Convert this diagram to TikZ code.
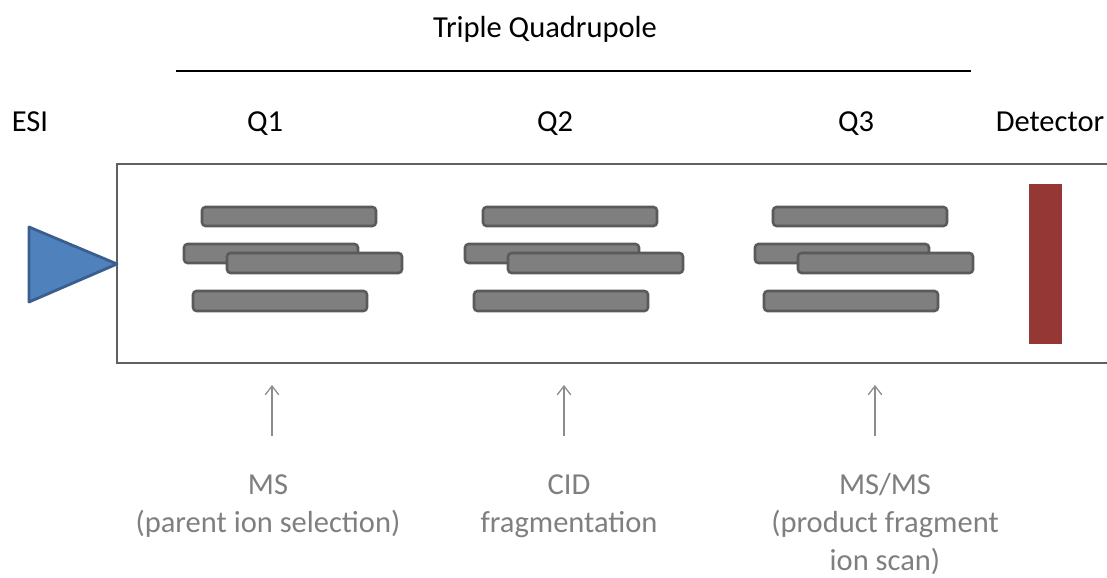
\documentclass[tikz,border=0pt]{standalone}
\usepackage{fontspec}
\setmainfont{Carlito}
\usetikzlibrary{positioning,arrows.meta}

\definecolor{rodfill}{HTML}{7F7F7F}
\definecolor{rodedge}{HTML}{5A5A5A}
\definecolor{boxedge}{HTML}{606060}
\definecolor{esifill}{HTML}{4F81BD}
\definecolor{esiedge}{HTML}{3A5F8E}
\definecolor{detfill}{HTML}{953735}
\definecolor{notegray}{HTML}{7F7F7F}
\definecolor{arrowgray}{HTML}{8C8C8C}

\begin{document}
\begin{tikzpicture}[x=0.025cm, y=-0.025cm,
    every node/.style={font=\fontsize{21.7}{27}\selectfont, inner sep=0pt},
    head/.style={anchor=base, text=black},
    note/.style={anchor=base, align=center, text=notegray},
    rod/.style={draw=rodedge, fill=rodfill, line width=1.8pt, rounded corners=2.5pt},
    pointer/.style={-{Straight Barb[length=2.2mm,width=3.4mm]}, draw=arrowgray, line width=0.9pt}
]
\useasboundingbox (0,0) rectangle (1107,578);
\clip (0,0) rectangle (1107,578);

% title and headings
\node [head] (title) at (545,38) {Triple Quadrupole};
\coordinate (tl) at (176,71);
\coordinate (tr) at (971,71);
\draw [line width=0.8pt] (tl) -- (tr);

\node [head] (esi) at (30,132) {ESI};
\node [head] (qa) at (265,132) {Q1};
\node [head] (qb) at (555,132) {Q2};
\node [head] (qc) at (856,132) {Q3};
\node [head] (det) at (1050,132) {Detector};

% instrument body
\draw [draw=boxedge, line width=2pt] (1130,164) -- (117,164) -- (117,363) -- (1130,363);

% ion source
\draw [fill=esifill, draw=esiedge, line width=2pt, line join=round]
    (29,227) -- (117,264) -- (29,302) -- cycle;

% quadrupole rods
\foreach \dx in {0,281,571} {
    \draw [rod] (202+\dx,207) rectangle (376+\dx,226);
    \draw [rod] (184+\dx,244) rectangle (358+\dx,263);
    \draw [rod] (227+\dx,253) rectangle (402+\dx,273);
    \draw [rod] (193+\dx,291) rectangle (367+\dx,311);
}

% detector plate
\fill [detfill] (1029,184) rectangle (1062,344);

% notes below (base = last line)
\node [note] (ms) at (268,532) {MS\\(parent ion selection)};
\node [note] (cid) at (569,532) {CID\\fragmentation};
\node [note] (msms) at (885,570) {MS/MS\\(product fragment\\ion scan)};

\coordinate (ta) at (272,436);
\coordinate (ha) at (272,385);
\coordinate (tb) at (564,436);
\coordinate (hb) at (564,385);
\coordinate (tc) at (875,436);
\coordinate (hc) at (875,385);
\draw [pointer] (ta) -- (ha);
\draw [pointer] (tb) -- (hb);
\draw [pointer] (tc) -- (hc);

\end{tikzpicture}
\end{document}
